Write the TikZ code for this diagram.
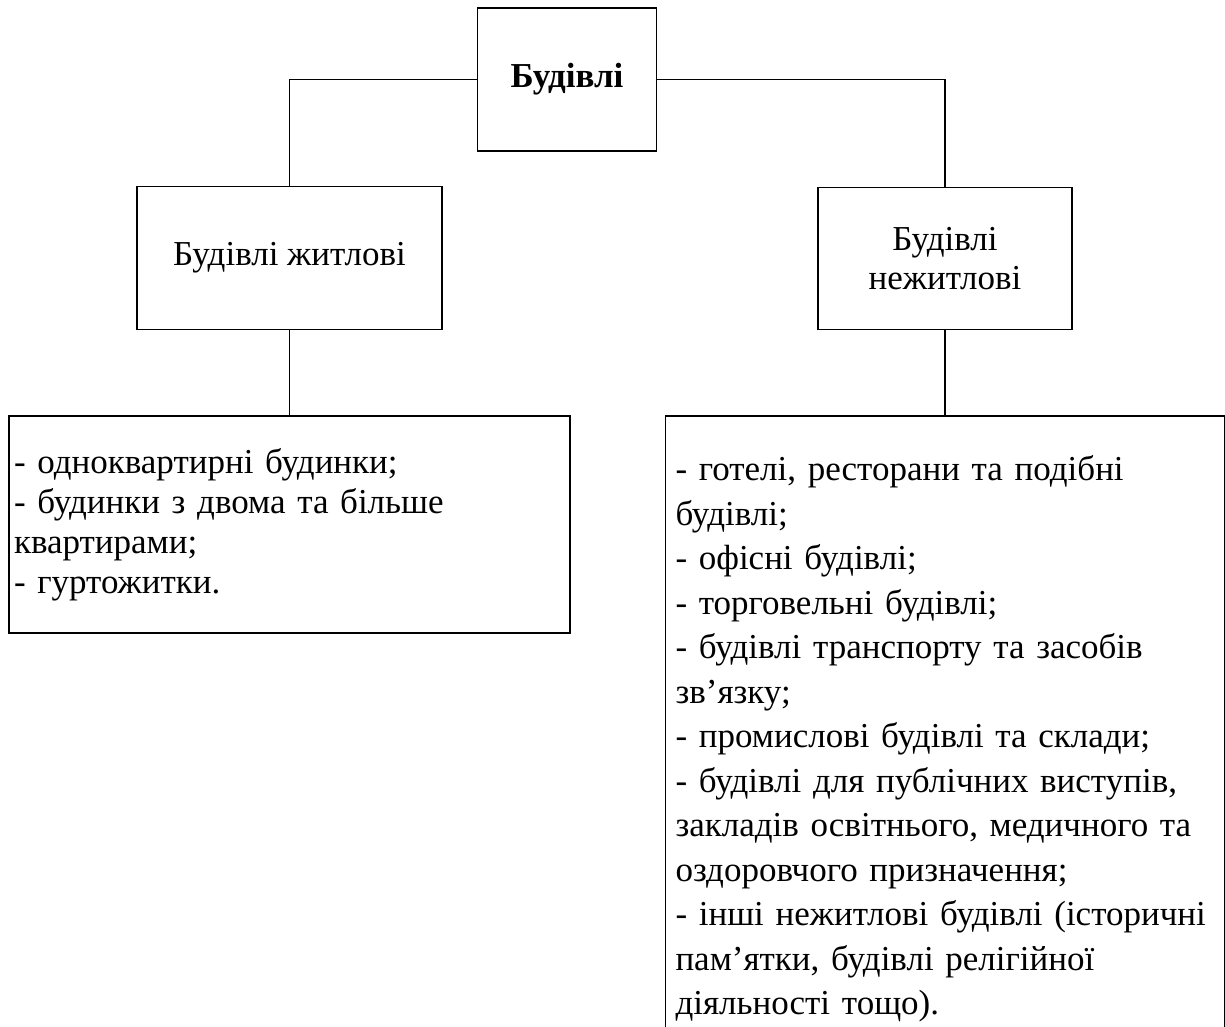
\documentclass[tikz,border=0pt]{standalone}
\usepackage{fontspec}
\setmainfont{Liberation Serif}
\begin{document}
\begin{tikzpicture}[x=1pt,y=-1pt,
  box/.style={draw, line width=1.5pt, rectangle, inner sep=0pt, align=center,
    font=\fontsize{35}{39}\selectfont},
  listbox/.style={draw, line width=1.5pt, rectangle, inner ysep=0pt, align=left},
  link/.style={line width=1.5pt}]
\useasboundingbox (0,0) rectangle (1225,1027);
\clip (0,0) rectangle (1225,1027);

% headings
\node[box, minimum width=179pt, minimum height=143pt,
  font=\bfseries\fontsize{35}{40}\selectfont] (top) at (567,79.5) {Будівлі};
\node[box, minimum width=305pt, minimum height=143pt] (res) at (289.5,258) {Будівлі житлові};
\node[box, minimum width=254pt, minimum height=142pt] (nres) at (945,258.5) {Будівлі\\нежитлові};

% lists
\node[listbox, minimum width=561pt, minimum height=217pt, text width=551pt, inner xsep=5pt,
  font=\fontsize{35}{40}\selectfont] (reslist) at (289.5,524.5)
  {- одноквартирні будинки;\\
   - будинки з двома та більше\\
   квартирами;\\
   - гуртожитки.};
\node[listbox, minimum width=559pt, minimum height=646pt, text width=539pt, inner xsep=10pt,
  font=\fontsize{35}{44.5}\selectfont] (nreslist) at (945,739)
  {- готелі, ресторани та подібні\\
   будівлі;\\
   - офісні будівлі;\\
   - торговельні будівлі;\\
   - будівлі транспорту та засобів\\
   зв’язку;\\
   - промислові будівлі та склади;\\
   - будівлі для публічних виступів,\\
   закладів освітнього, медичного та\\
   оздоровчого призначення;\\
   - інші нежитлові будівлі (історичні\\
   пам’ятки, будівлі релігійної\\
   діяльності тощо).};

% connectors
\draw[link] (top.west) -| (res.north);
\draw[link] (top.east) -| (nres.north);
\draw[link] (res.south) -- (reslist.north);
\draw[link] (nres.south) -- (nreslist.north);
\end{tikzpicture}
\end{document}
